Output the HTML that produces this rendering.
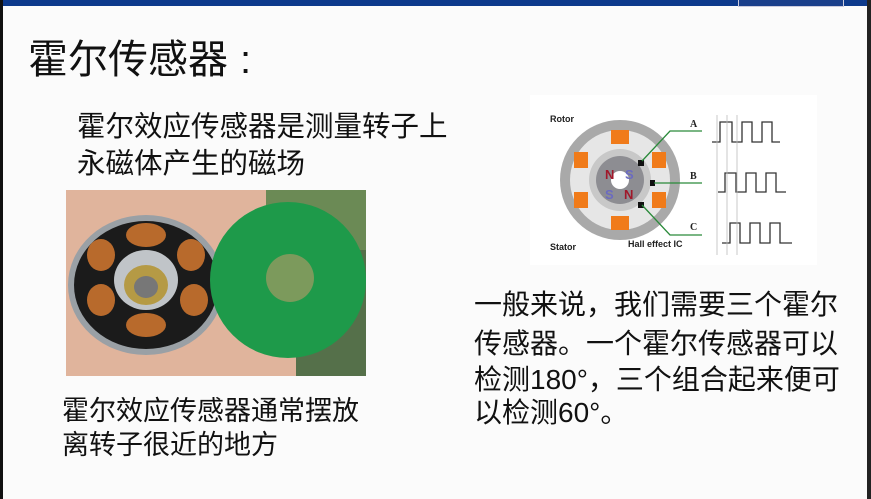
<!DOCTYPE html>
<html><head><meta charset="utf-8"><style>
body{margin:0;width:871px;height:499px;overflow:hidden;background:#fbfbfb;position:relative;font-family:"Liberation Sans","Noto Sans CJK SC",sans-serif;color:#111}
.t{position:absolute;white-space:nowrap;line-height:1}
</style></head><body>
<div style="position:absolute;left:0;top:0;width:871px;height:6px;background:#0d3a8c"></div>
<div style="position:absolute;left:738px;top:0;width:104px;height:6px;background:#1a3f8a;border:1px solid #ccd;border-top:0"></div>
<div style="position:absolute;left:0;top:0;width:3px;height:499px;background:#111"></div>
<div style="position:absolute;right:0;top:0;width:4px;height:499px;background:#222"></div>
<div class="t" style="left:28px;top:40px;font-size:40px">霍尔传感器<span style="margin-left:12px">:</span></div>
<div class="t" style="left:77px;top:113px;font-size:28.5px">霍尔效应传感器是测量转子上</div>
<div class="t" style="left:77px;top:150px;font-size:28.5px">永磁体产生的磁场</div>
<div class="t" style="left:62px;top:398px;font-size:27px">霍尔效应传感器通常摆放</div>
<div class="t" style="left:62px;top:432px;font-size:27px">离转子很近的地方</div>
<div class="t" style="left:474px;top:291px;font-size:28px">一般来说，我们需要三个霍尔</div>
<div class="t" style="left:474px;top:330px;font-size:28px">传感器。一个霍尔传感器可以</div>
<div class="t" style="left:474px;top:366px;font-size:28px">检测180°，三个组合起来便可</div>
<div class="t" style="left:474px;top:399px;font-size:28px">以检测60°。</div>
<svg style="position:absolute;left:66px;top:190px" width="300" height="186">
<rect width="300" height="186" fill="#55704a"/>
<rect width="230" height="186" fill="#e0b49c"/>
<rect x="200" y="0" width="100" height="60" fill="#6b8a55"/>
<ellipse cx="80" cy="95" rx="78" ry="70" fill="#9aa0a5"/>
<ellipse cx="80" cy="95" rx="72" ry="64" fill="#1b1b1b"/>
<g fill="#b86a2c"><ellipse cx="80" cy="45" rx="20" ry="12"/><ellipse cx="125" cy="65" rx="14" ry="16"/><ellipse cx="128" cy="110" rx="14" ry="16"/><ellipse cx="80" cy="135" rx="20" ry="12"/><ellipse cx="35" cy="110" rx="14" ry="16"/><ellipse cx="35" cy="65" rx="14" ry="16"/></g>
<ellipse cx="80" cy="90" rx="32" ry="30" fill="#c0c4c8"/>
<ellipse cx="80" cy="95" rx="22" ry="20" fill="#b59a45"/>
<ellipse cx="80" cy="97" rx="12" ry="11" fill="#777"/>
<circle cx="222" cy="90" r="78" fill="#1e9a4a"/>
<circle cx="224" cy="88" r="24" fill="#7c9a5c"/>
</svg>
<svg style="position:absolute;left:530px;top:95px" width="287" height="170" font-family="Liberation Sans,sans-serif">
<rect width="287" height="170" fill="#fff"/>
<circle cx="90" cy="85" r="60" fill="#a9a9a9"/>
<circle cx="90" cy="85" r="50" fill="#e6e6e6"/>
<g fill="#f07b1a"><rect x="81" y="35" width="18" height="14"/><rect x="81" y="121" width="18" height="14"/><rect x="44" y="57" width="14" height="16"/><rect x="122" y="57" width="14" height="16"/><rect x="44" y="97" width="14" height="16"/><rect x="122" y="97" width="14" height="16"/></g>
<circle cx="90" cy="85" r="31" fill="#c8c8c8"/>
<circle cx="90" cy="85" r="24" fill="#8d8d92"/>
<circle cx="90" cy="85" r="9" fill="#fff"/>
<g font-weight="bold" font-size="13"><text x="75" y="84" fill="#a0182a">N</text><text x="94" y="104" fill="#a0182a">N</text><text x="95" y="84" fill="#6b6bc0">S</text><text x="75" y="104" fill="#6b6bc0">S</text></g>
<g fill="#111"><rect x="108" y="65" width="6" height="6"/><rect x="120" y="85" width="5" height="6"/><rect x="108" y="107" width="6" height="6"/></g>
<g stroke="#2a8a3a" stroke-width="1.3" fill="none"><polyline points="112,66 140,36 172,36"/><line x1="124" y1="88" x2="172" y2="88"/><polyline points="112,110 140,140 172,140"/></g>
<g fill="#222" font-size="9" font-weight="bold"><text x="20" y="27">Rotor</text><text x="20" y="155">Stator</text><text x="98" y="152">Hall effect IC</text></g>
<g font-family="Liberation Serif" font-weight="bold" font-size="10" fill="#222"><text x="160" y="32">A</text><text x="160" y="84">B</text><text x="160" y="135">C</text></g>
<g stroke="#333" stroke-width="1.3" fill="none">
<polyline points="182,47 190,47 190,27 202,27 202,47 212,47 212,27 222,27 222,47 232,47 232,27 242,27 242,47 250,47"/>
<polyline points="188,97 195,97 195,78 206,78 206,97 216,97 216,78 226,78 226,97 236,97 236,78 246,78 246,97 256,97"/>
<polyline points="192,148 200,148 200,128 210,128 210,148 220,148 220,128 230,128 230,148 240,148 240,128 250,128 250,148 262,148"/>
</g>
<g stroke="#bbb" stroke-width="0.8"><line x1="187" y1="20" x2="187" y2="160"/><line x1="197" y1="20" x2="197" y2="160"/><line x1="207" y1="20" x2="207" y2="160"/></g>
</svg>
</body></html>
